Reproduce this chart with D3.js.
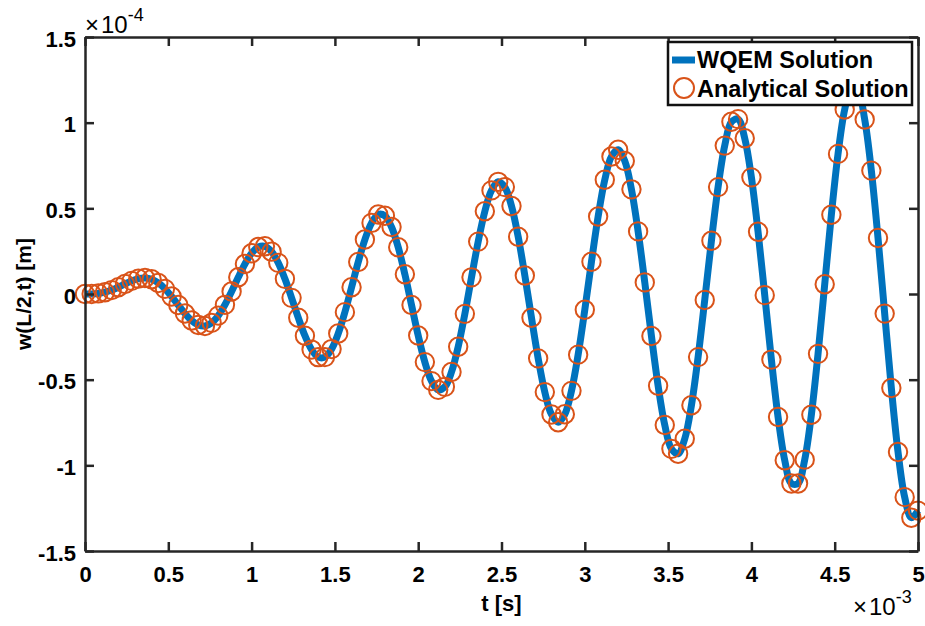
<!DOCTYPE html>
<html>
<head>
<meta charset="utf-8">
<script src="https://cdn.jsdelivr.net/npm/d3@7/dist/d3.min.js"></script>
<style>
  html, body { margin: 0; padding: 0; background: #fff; }
  svg { display: block; }
  text { font-family: "Liberation Sans", Arial, Helvetica, sans-serif; }
</style>
</head>
<body>
<svg id="chart" width="925" height="626"></svg>
<script>
// ---- data (time in ms, displacement in units of 1e-4 m) ----
const tMs = [
  0.00,0.04,0.08,0.12,0.16,0.20,0.24,0.28,0.32,0.36,0.40,0.44,0.48,0.52,0.56,0.60,0.64,0.68,0.72,0.76,
  0.80,0.84,0.88,0.92,0.96,1.00,1.04,1.08,1.12,1.16,1.20,1.24,1.28,1.32,1.36,1.40,1.44,1.48,1.52,1.56,
  1.60,1.64,1.68,1.72,1.76,1.80,1.84,1.88,1.92,1.96,2.00,2.04,2.08,2.12,2.16,2.20,2.24,2.28,2.32,2.36,
  2.40,2.44,2.48,2.52,2.56,2.60,2.64,2.68,2.72,2.76,2.80,2.84,2.88,2.92,2.96,3.00,3.04,3.08,3.12,3.16,
  3.20,3.24,3.28,3.32,3.36,3.40,3.44,3.48,3.52,3.56,3.60,3.64,3.68,3.72,3.76,3.80,3.84,3.88,3.92,3.96,
  4.00,4.04,4.08,4.12,4.16,4.20,4.24,4.28,4.32,4.36,4.40,4.44,4.48,4.52,4.56,4.60,4.64,4.68,4.72,4.76,
  4.80,4.84,4.88,4.92,4.96,5.00
];
const wqemSolution = [
  0,0.0004,0.0034,0.0106,0.0229,0.0396,0.0586,0.0765,0.0895,0.0935,0.0857,0.0644,0.0301,-0.0145,-0.0645,-0.1137,-0.1547,-0.1809,-0.1865,-0.1683,
  -0.1262,-0.0632,0.0143,0.0974,0.1754,0.2375,0.2741,0.2784,0.2471,0.1818,0.0885,-0.0226,-0.1382,-0.2435,-0.3244,-0.3687,-0.3685,-0.3215,-0.2308,-0.1058,
  0.0392,0.1867,0.3177,0.4149,0.4640,0.4566,0.3908,0.2728,0.1149,-0.0642,-0.2426,-0.3976,-0.5085,-0.5595,-0.5418,-0.4550,-0.3075,-0.1158,0.0973,0.3057,
  0.4826,0.6048,0.6547,0.6238,0.5134,0.3345,0.1083,-0.1387,-0.3757,-0.5725,-0.7030,-0.7489,-0.7020,-0.5654,-0.3540,-0.0922,0.1881,0.4524,0.6667,0.8029,
  0.8417,0.7759,0.6109,0.3653,0.0678,-0.2454,-0.5353,-0.7648,-0.9037,-0.9324,-0.8450,-0.6497,-0.3683,-0.0348,0.3104,0.6240,0.8661,1.0050,1.0206,0.9088,
  0.6809,0.3629,-0.0067,-0.3828,-0.7182,-0.9706,-1.1061,-1.1057,-0.9669,-0.7045,-0.3492,0.0565,0.4625,0.8177,1.0772,1.2065,1.1871,1.0189,0.7203,0.3267,
  -0.1145,-0.5490,-0.9218,-1.1857,-1.3055,-1.2643
];
const analyticalSolution = [
  0,0.0004,0.0034,0.0106,0.0229,0.0396,0.0586,0.0765,0.0895,0.0935,0.0857,0.0644,0.0301,-0.0145,-0.0645,-0.1137,-0.1547,-0.1809,-0.1865,-0.1683,
  -0.1262,-0.0632,0.0143,0.0974,0.1754,0.2375,0.2741,0.2784,0.2471,0.1818,0.0885,-0.0226,-0.1382,-0.2435,-0.3244,-0.3687,-0.3685,-0.3215,-0.2308,-0.1058,
  0.0392,0.1867,0.3177,0.4149,0.4640,0.4566,0.3908,0.2728,0.1149,-0.0642,-0.2426,-0.3976,-0.5085,-0.5595,-0.5418,-0.4550,-0.3075,-0.1158,0.0973,0.3057,
  0.4826,0.6048,0.6547,0.6238,0.5134,0.3345,0.1083,-0.1387,-0.3757,-0.5725,-0.7030,-0.7489,-0.7020,-0.5654,-0.3540,-0.0922,0.1881,0.4524,0.6667,0.8029,
  0.8417,0.7759,0.6109,0.3653,0.0678,-0.2454,-0.5353,-0.7648,-0.9037,-0.9324,-0.8450,-0.6497,-0.3683,-0.0348,0.3104,0.6240,0.8661,1.0050,1.0206,0.9088,
  0.6809,0.3629,-0.0067,-0.3828,-0.7182,-0.9706,-1.1061,-1.1057,-0.9669,-0.7045,-0.3492,0.0565,0.4625,0.8177,1.0772,1.2065,1.1871,1.0189,0.7203,0.3267,
  -0.1145,-0.5490,-0.9218,-1.1857,-1.3055,-1.2643
];
const xTicks = [0, 0.5, 1, 1.5, 2, 2.5, 3, 3.5, 4, 4.5, 5];
const xTickLabels = ["0","0.5","1","1.5","2","2.5","3","3.5","4","4.5","5"];
const yTicks = [-1.5, -1, -0.5, 0, 0.5, 1, 1.5];
const yTickLabels = ["-1.5","-1","-0.5","0","0.5","1","1.5"];
const seriesNames = ["WQEM Solution", "Analytical Solution"];
const xLabel = "t [s]";
const yLabel = "w(L/2,t) [m]";

// ---- layout ----
const W = 925, H = 626;
const plot = { left: 85, top: 37, right: 918, bottom: 551 };
const axisColor = "#262626";
const lineColor = "#0072BD";
const markerColor = "#D95319";

const svg = d3.select("#chart");
svg.append("rect").attr("width", W).attr("height", H).attr("fill", "#fff");

const x = d3.scaleLinear().domain([0, 5]).range([plot.left, plot.right]);
const y = d3.scaleLinear().domain([-1.5, 1.5]).range([plot.bottom, plot.top]);

const lineData = tMs.map((t, i) => ({ t, v: wqemSolution[i] }));
const markData = tMs.map((t, i) => ({ t, v: analyticalSolution[i] }));

// line
svg.append("path")
  .datum(lineData)
  .attr("fill", "none")
  .attr("stroke", lineColor)
  .attr("stroke-width", 7)
  .attr("stroke-linejoin", "round")
  .attr("d", d3.line().x(d => x(d.t)).y(d => y(d.v)).curve(d3.curveCatmullRom.alpha(0.5)));

// markers
svg.append("g").selectAll("circle")
  .data(markData)
  .join("circle")
  .attr("cx", d => x(d.t))
  .attr("cy", d => y(d.v))
  .attr("r", 9.2)
  .attr("fill", "none")
  .attr("stroke", markerColor)
  .attr("stroke-width", 2);

// axes
function styleAxis(g) {
  g.selectAll("path.domain").attr("stroke", axisColor).attr("stroke-width", 2.5);
  g.selectAll(".tick line").attr("stroke", axisColor).attr("stroke-width", 2.5);
  g.selectAll(".tick text")
    .attr("fill", "#000")
    .attr("font-size", 22)
    .attr("font-weight", "bold");
}
const tickLen = 9;

const gx = svg.append("g").attr("transform", `translate(0,${plot.bottom})`)
  .call(d3.axisBottom(x).tickValues(xTicks).tickFormat((d, i) => xTickLabels[i])
    .tickSizeInner(-tickLen).tickSizeOuter(0).tickPadding(15));
styleAxis(gx);

const gxt = svg.append("g").attr("transform", `translate(0,${plot.top})`)
  .call(d3.axisTop(x).tickValues(xTicks).tickFormat("").tickSizeInner(-tickLen).tickSizeOuter(0));
styleAxis(gxt);

const gy = svg.append("g").attr("transform", `translate(${plot.left},0)`)
  .call(d3.axisLeft(y).tickValues(yTicks).tickFormat((d, i) => yTickLabels[i])
    .tickSizeInner(-tickLen).tickSizeOuter(0).tickPadding(9));
styleAxis(gy);
gy.selectAll(".tick text").attr("dy", "0.42em");

const gyr = svg.append("g").attr("transform", `translate(${plot.right},0)`)
  .call(d3.axisRight(y).tickValues(yTicks).tickFormat("").tickSizeInner(-tickLen).tickSizeOuter(0));
styleAxis(gyr);

// axis titles
svg.append("text")
  .attr("x", (plot.left + plot.right) / 2)
  .attr("y", 611)
  .attr("text-anchor", "middle")
  .attr("font-size", 22)
  .attr("font-weight", "bold")
  .text(xLabel);

svg.append("text")
  .attr("transform", `translate(31,${(plot.top + plot.bottom) / 2}) rotate(-90)`)
  .attr("text-anchor", "middle")
  .attr("font-size", 21)
  .attr("font-weight", "bold")
  .text(yLabel);

// exponent labels
function exponent(xPos, yBase, exp) {
  const t = svg.append("text").attr("x", xPos).attr("y", yBase).attr("font-size", 24).attr("fill", "#000");
  t.append("tspan").text("\u00D7");
  t.append("tspan").attr("dx", 2).text("10");
  t.append("tspan").attr("font-size", 18).attr("dy", -12).text(exp);
}
exponent(85, 33, "-4");
exponent(853, 615, "-3");

// legend
const lg = svg.append("g");
lg.append("rect")
  .attr("x", 668).attr("y", 42).attr("width", 244).attr("height", 63)
  .attr("fill", "#fff").attr("stroke", "#111").attr("stroke-width", 2.5);
lg.append("line")
  .attr("x1", 672).attr("x2", 695).attr("y1", 60).attr("y2", 60)
  .attr("stroke", lineColor).attr("stroke-width", 7);
lg.append("circle")
  .attr("cx", 684).attr("cy", 88).attr("r", 10)
  .attr("fill", "none").attr("stroke", markerColor).attr("stroke-width", 2);
lg.append("text").attr("x", 697).attr("y", 68)
  .attr("font-size", 23.5).attr("font-weight", "bold").text(seriesNames[0]);
lg.append("text").attr("x", 697).attr("y", 97)
  .attr("font-size", 23.5).attr("font-weight", "bold").text(seriesNames[1]);
</script>
</body>
</html>
